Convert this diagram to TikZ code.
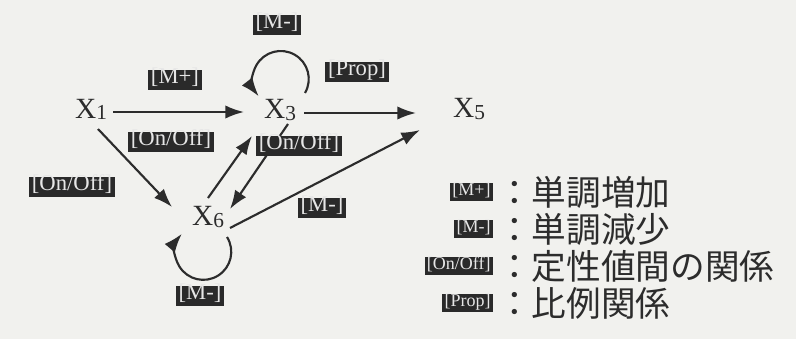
\documentclass[tikz,border=0pt]{standalone}
\usepackage{fontspec}
\setmainfont{Liberation Serif}
\newfontfamily\cjk{Noto Sans CJK JP}
\usetikzlibrary{arrows.meta}
\definecolor{bg}{HTML}{F1F1EE}
\definecolor{ink}{HTML}{2C2C2C}
\definecolor{boxc}{HTML}{2A2A2A}
\definecolor{boxt}{HTML}{E6E6E6}
\newcommand{\varX}[1]{X{\fontsize{16pt}{16pt}\selectfont\raisebox{-0.8pt}{#1}}}
\begin{document}
\begin{tikzpicture}[x=0.75pt,y=-0.75pt,
  var/.style={inner sep=0pt,text=ink,font=\fontsize{22pt}{22pt}\selectfont},
  tag/.style={fill=boxc,text=boxt,font=\fontsize{17pt}{17pt}\selectfont,
    inner xsep=2pt,inner ysep=2.6pt,text height=0.74em,text depth=0.22em},
  ltag/.style={tag,font=\fontsize{13.5pt}{13.5pt}\selectfont,inner xsep=1.6pt,inner ysep=1.8pt},
  ltext/.style={text=ink,font=\cjk\fontsize{26pt}{26pt}\selectfont,inner sep=0pt,anchor=west},
  arr/.style={draw=ink,line width=1.6pt,-{Latex[length=14pt,width=10pt]}}]
\fill[bg] (0,0) rectangle (796,339);
\useasboundingbox (0,0) rectangle (796,339);
% variables
\node[var] (X1) at (91,109) {\varX{1}};
\node[var] (X3) at (280,110) {\varX{3}};
\node[var] (X5) at (469,109) {\varX{5}};
\node[var] (X6) at (208,217) {\varX{6}};
% connectors
\draw[arr] ([shift={(22,3)}]X1.center) -- ([shift={(-36,2)}]X3.center);
\draw[arr] ([shift={(24,3)}]X3.center) -- ([shift={(-53,4)}]X5.center);
\draw[arr] ([shift={(7,20)}]X1.center) -- ([shift={(-36,-10)}]X6.center);
\draw[arr] ([shift={(0,-19)}]X6.center) -- ([shift={(-28,26)}]X3.center);
\draw[arr] ([shift={(8,14)}]X3.center) -- ([shift={(22,-8)}]X6.center);
\draw[arr] ([shift={(22,11)}]X6.center) -- ([shift={(-49,21)}]X5.center);
\draw[arr] ([shift={(25,-17)}]X3.center) arc[start angle=30,end angle=-218,radius=28];
\draw[arr] ([shift={(19,20)}]X6.center) arc[start angle=-32,end angle=220,radius=28];
% labels
\node[tag] (lMtop) at (277,25) {[M-]};
\node[tag] (lProp) at (357,72) {[Prop]};
\node[tag] (lMp) at (175,80) {[M+]};
\node[tag] (lOA) at (171,142) {[On/Off]};
\node[tag] (lOB) at (299,146) {[On/Off]};
\node[tag] (lOL) at (72,187) {[On/Off]};
\node[tag] (lMr) at (322,208) {[M-]};
\node[tag] (lMb) at (200,296) {[M-]};
% legend
\node[ltag,anchor=east] (g1) at (493,192) {[M+]};
\node[ltag,anchor=east] (g2) at (493,229) {[M-]};
\node[ltag,anchor=east] (g3) at (493,266) {[On/Off]};
\node[ltag,anchor=east] (g4) at (493,303) {[Prop]};
\node[ltext] (t1) at (497,192) {：単調増加};
\node[ltext] (t2) at (497,229) {：単調減少};
\node[ltext] (t3) at (497,266) {：定性値間の関係};
\node[ltext] (t4) at (497,303) {：比例関係};
\end{tikzpicture}
\end{document}
